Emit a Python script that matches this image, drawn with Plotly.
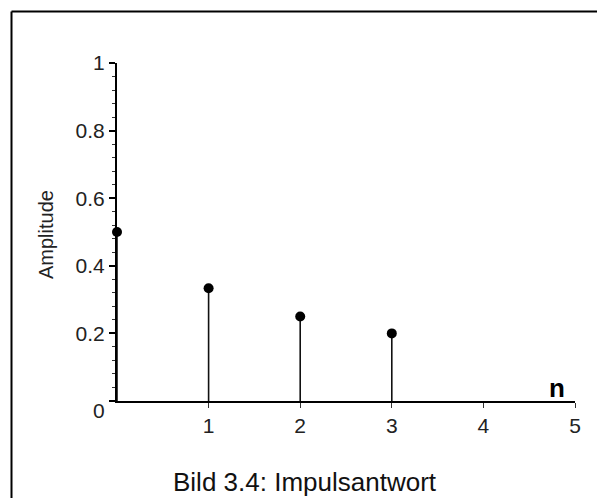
import plotly.graph_objects as go

# Data
n_values = [0, 1, 2, 3]
amplitudes = [0.5, 1/3, 0.25, 0.2]
x_ticks = [1, 2, 3, 4, 5]
y_ticks = [0, 0.2, 0.4, 0.6, 0.8, 1]
y_ticktext = ["", "0.2", "0.4", "0.6", "0.8", "1"]
caption = "Bild 3.4: Impulsantwort"
y_title = "Amplitude"
x_title = "n"

FONT = "Liberation Sans, Arial, sans-serif"
TICK_SIZE = 21

# stems built from data
sx, sy = [], []
for n, a in zip(n_values, amplitudes):
    sx += [n, n, None]
    sy += [0, a, None]

fig = go.Figure()
fig.add_trace(go.Scatter(x=sx, y=sy, mode="lines",
                         line=dict(color="#111111", width=1.6),
                         hoverinfo="skip", showlegend=False, cliponaxis=False))
fig.add_trace(go.Scatter(x=n_values, y=amplitudes, mode="markers",
                         marker=dict(color="#000000", size=10),
                         showlegend=False, cliponaxis=False))

W, H = 597, 498
L, R, T, B = 117, 22, 63, 97
pw, ph = W - L - R, H - T - B

def px_x(p):
    return (p - L) / pw

def px_y(p):
    return (H - B - p) / ph

fig.update_layout(
    width=W, height=H,
    margin=dict(l=L, r=R, t=T, b=B, pad=0),
    paper_bgcolor="white", plot_bgcolor="white",
    font=dict(family=FONT, color="#222222", size=TICK_SIZE),
    xaxis=dict(range=[0, 5], tickvals=x_ticks, showgrid=False, zeroline=False,
               showline=True, linecolor="#000000", linewidth=2,
               ticks="outside", ticklen=5, tickwidth=1, tickcolor="#333333",
               tickfont=dict(size=TICK_SIZE, family=FONT, color="#222222")),
    yaxis=dict(range=[0, 1], tickvals=y_ticks, ticktext=y_ticktext,
               showgrid=False, zeroline=False,
               showline=True, linecolor="#000000", linewidth=2,
               ticks="outside", ticklen=6, tickwidth=1.5, tickcolor="#000000",
               tickfont=dict(size=TICK_SIZE, family=FONT, color="#222222"),
               minor=dict(dtick=0.04, ticks="outside", ticklen=3,
                          tickwidth=1, tickcolor="#333333", showgrid=False)),
    shapes=[
        dict(type="line", xref="paper", yref="paper",
             x0=px_x(11.5), x1=px_x(600), y0=px_y(11.5), y1=px_y(11.5),
             line=dict(color="black", width=2)),
        dict(type="line", xref="paper", yref="paper",
             x0=px_x(11.5), x1=px_x(11.5), y0=px_y(11.5), y1=px_y(500),
             line=dict(color="black", width=2)),
    ],
    annotations=[
        dict(text="0", xref="paper", yref="y", x=0, y=0, xanchor="right",
             yanchor="middle", xshift=-10, yshift=-9, showarrow=False,
             font=dict(size=TICK_SIZE, family=FONT, color="#222222")),
        dict(text=y_title, xref="paper", yref="paper", x=px_x(46), y=px_y(235),
             xanchor="center", yanchor="middle", textangle=-90, showarrow=False,
             font=dict(size=20, family=FONT, color="#222222")),
        dict(text="<b>" + x_title + "</b>", xref="paper", yref="paper",
             x=px_x(557), y=px_y(388), xanchor="center", yanchor="middle",
             showarrow=False, font=dict(size=26, family=FONT, color="#000000")),
        dict(text=caption, xref="paper", yref="paper", x=px_x(305), y=px_y(482),
             xanchor="center", yanchor="middle", showarrow=False,
             font=dict(size=26, family=FONT, color="#111111")),
    ],
)

fig.write_html("out.html")
